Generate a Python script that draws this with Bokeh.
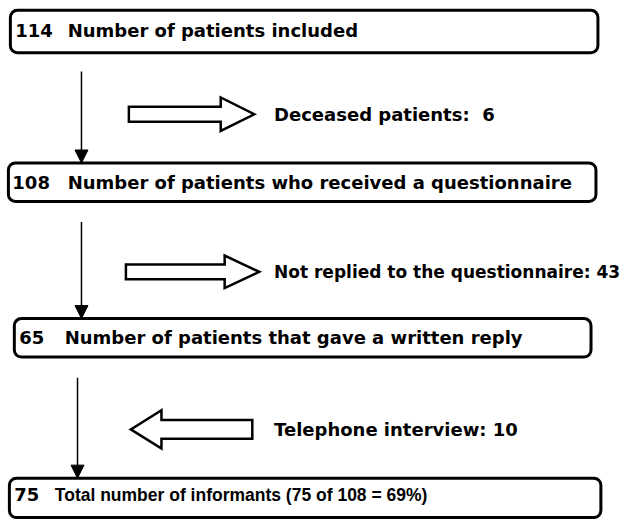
from bokeh.plotting import figure
from bokeh.models import Range1d, Arrow, NormalHead
from bokeh.core.properties import value
from bokeh.embed import file_html
from bokeh.resources import INLINE

# ---- data ----
stage_counts = [114, 108, 65, 75]
stage_labels = [
    "Number of patients included",
    "Number of patients who received a questionnaire",
    "Number of patients that gave a written reply",
    "Total number of informants (75 of 108 = 69%)",
]
side_labels = ["Deceased patients:", "Not replied to the questionnaire:", "Telephone interview:"]
side_counts = [6, 43, 10]

# ---- layout (pixel-space positions) ----
box_left = [10, 8, 14, 9]
box_right = [605, 603, 598, 608]
box_top = [10, 165, 323, 485]
box_bottom = [53, 204, 362, 525]
text_y = [30, 185, 342, 502]
num_x = [15, 12, 19, 14]
lab_x = [68, 68, 65, 55]
lab_font = ["DejaVu Sans", "DejaVu Sans", "DejaVu Sans", "Liberation Sans"]
lab_size = ["18px", "18px", "18px", "17.5px"]

flow_x = [82, 82, 78]
flow_start = [72, 225, 383]

blk_y = [115.5, 275.5, 435.5]
blk_tail = [130, 127, 255]
blk_base = [223, 227, 163]
blk_tip = [257, 262, 132]
shaft_half = [7.5, 7.5, 9.5]
head_half = [17, 16.5, 19.5]
side_text_x = 277
side_size = ["18px", "17px", "18px"]

W, H = 631, 519
p = figure(width=W, height=H, output_backend="svg", toolbar_location=None,
           x_range=Range1d(0, 639), y_range=Range1d(527, 0),
           min_border=0, outline_line_color=None, background_fill_color="white")
p.axis.visible = False
p.grid.visible = False

# boxes
p.quad(left=box_left, right=box_right, top=box_top, bottom=box_bottom,
       fill_color="white", line_color="black", line_width=3, border_radius=7)

# box texts
p.text(x=num_x, y=text_y, text=[str(c) for c in stage_counts],
       text_font=value("DejaVu Sans"), text_font_style="bold", text_font_size="18px",
       text_baseline="middle", text_color="black")
for i in range(4):
    p.text(x=[lab_x[i]], y=[text_y[i]], text=[stage_labels[i]],
           text_font=value(lab_font[i]), text_font_style="bold", text_font_size=lab_size[i],
           text_baseline="middle", text_color="black")

# vertical flow arrows
for i in range(3):
    p.add_layout(Arrow(x_start=flow_x[i], y_start=flow_start[i], x_end=flow_x[i], y_end=box_top[i + 1],
                       line_width=1.5, line_color="black",
                       end=NormalHead(size=13, fill_color="black", line_color="black", line_width=1)))

# block arrows
xs, ys = [], []
for i in range(3):
    y0, t, b, tip = blk_y[i], blk_tail[i], blk_base[i], blk_tip[i]
    s, h = shaft_half[i], head_half[i]
    xs.append([t, b, b, tip, b, b, t])
    ys.append([y0 - s, y0 - s, y0 - h, y0, y0 + h, y0 + s, y0 + s])
p.patches(xs=xs, ys=ys, fill_color="white", line_color="black", line_width=2.5, line_join="miter")

# side texts
sep = ["\u00a0 ", " ", " "]
for i, (l, c) in enumerate(zip(side_labels, side_counts)):
    p.text(x=[side_text_x], y=[blk_y[i]], text=[f"{l}{sep[i]}{c}"],
           text_font=value("DejaVu Sans"), text_font_style="bold", text_font_size=side_size[i],
           text_baseline="middle", text_color="black")

open("out.html", "w").write(file_html(p, INLINE))
